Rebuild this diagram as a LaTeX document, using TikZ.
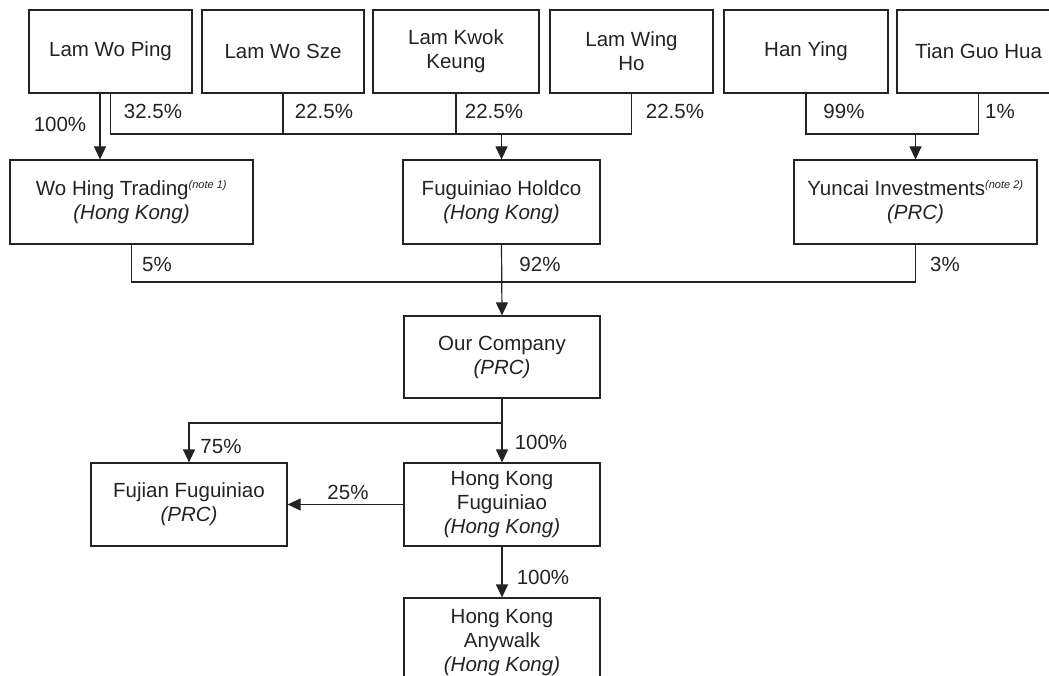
\documentclass[tikz,border=0pt]{standalone}
\usepackage{fontspec}
\setmainfont{Liberation Sans}
\usetikzlibrary{arrows.meta}
\definecolor{ink}{RGB}{35,35,35}
\newcommand{\notesup}[1]{\textsuperscript{\fontsize{11}{12}\selectfont\itshape #1}}
\begin{document}
\begin{tikzpicture}[x=1pt,y=-1pt,
  box/.style={draw=ink, line width=1.2pt, text=ink, align=center, inner sep=0pt,
    font=\fontsize{20.5}{24}\selectfont, minimum height=83pt},
  ln/.style={draw=ink, line width=1.2pt},
  arr/.style={ln, -{Triangle[length=13pt,width=12pt]}},
  pct/.style={text=ink, font=\fontsize{20.5}{24}\selectfont, inner sep=0pt},
]
\useasboundingbox (0,0) rectangle (1049,676);
% top row
\node[box, minimum width=163pt] (lwp) at (110.5,51.5) {Lam Wo Ping};
\node[box, minimum width=162pt] (lws) at (283,51.5) {Lam Wo Sze};
\node[box, minimum width=166pt] (lkk) at (456,51.5) {Lam Kwok\\Keung};
\node[box, minimum width=163pt] (lwh) at (631.5,51.5) {Lam Wing\\Ho};
\node[box, minimum width=164pt] (hy) at (806,51.5) {Han Ying};
\node[box, minimum width=163pt] (tgh) at (978.5,51.5) {Tian Guo Hua};
% second row
\node[box, minimum width=243pt, minimum height=84pt] (woh) at (131.5,202) {Wo Hing Trading\notesup{(note 1)}\\\textit{(Hong Kong)}};
\node[box, minimum width=197pt, minimum height=84pt] (fh) at (501.5,202) {Fuguiniao Holdco\\\textit{(Hong Kong)}};
\node[box, minimum width=243pt, minimum height=84pt] (yc) at (915.5,202) {Yuncai Investments\notesup{(note 2)}\\\textit{(PRC)}};
% company
\node[box, minimum width=196pt, minimum height=82pt] (oc) at (502,357) {Our Company\\\textit{(PRC)}};
\node[box, minimum width=196pt] (fj) at (189,504.5) {Fujian Fuguiniao\\\textit{(PRC)}};
\node[box, minimum width=196pt] (hkf) at (502,504.5) {Hong Kong\\Fuguiniao\\\textit{(Hong Kong)}};
\node[box, minimum width=196pt, minimum height=90pt] (aw) at (502,643) {Hong Kong\\Anywalk\\\textit{(Hong Kong)}};
% bus coordinates
\coordinate (b1) at (0,134);
\coordinate (b2) at (0,282);
\coordinate (b3) at (0,423);
% top connectors
\draw[arr] ([xshift=-10.5pt]lwp.south) -- ([xshift=-10.5pt]lwp.south |- woh.north);
\draw[ln] (lwp.south) |- (lwh.south |- b1) -- (lwh.south);
\draw[ln] (lws.south) -- (lws.south |- b1);
\draw[ln] (lkk.south) -- (lkk.south |- b1);
\draw[arr] (fh.north |- b1) -- (fh.north);
\draw[ln] (hy.south) |- (tgh.south |- b1) -- (tgh.south);
\draw[arr] (yc.north |- b1) -- (yc.north);
% second connectors
\draw[ln] (woh.south) |- (yc.south |- b2) -- (yc.south);
\draw[arr] (fh.south) -- (oc.north);
% lower
\draw[arr] (oc.south) -- (hkf.north);
\draw[arr] (oc.south |- b3) -| (fj.north);
\draw[arr] (hkf.west) -- (fj.east);
\draw[arr] (hkf.south) -- (aw.north);
% labels
\node[pct] (p1) at (60,124) {100\%};
\node[pct] (p2) at (153,111) {32.5\%};
\node[pct] (p3) at (324,111) {22.5\%};
\node[pct] (p4) at (494,111) {22.5\%};
\node[pct] (p5) at (675,111) {22.5\%};
\node[pct] (p6) at (844,111) {99\%};
\node[pct] (p7) at (1000,111) {1\%};
\node[pct] (p8) at (157,264) {5\%};
\node[pct] (p9) at (540,264) {92\%};
\node[pct] (p10) at (945,264) {3\%};
\node[pct] (p11) at (221,446) {75\%};
\node[pct] (p12) at (541,442) {100\%};
\node[pct] (p13) at (348,492) {25\%};
\node[pct] (p14) at (543,577) {100\%};
\end{tikzpicture}
\end{document}
